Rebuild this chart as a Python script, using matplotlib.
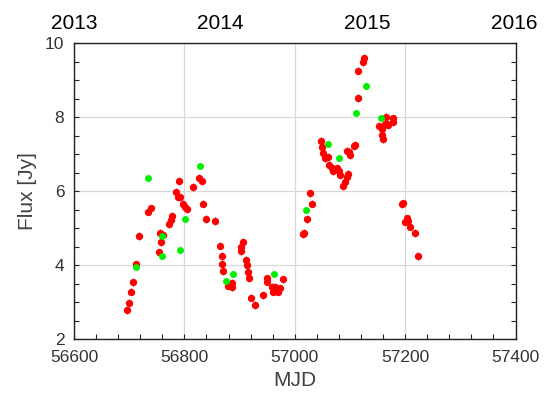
import matplotlib
matplotlib.use("Agg")
import matplotlib.pyplot as plt
from matplotlib.ticker import MultipleLocator

plt.rcParams['font.family'] = ['Liberation Sans', 'DejaVu Sans']

# Radio light curve: main monitoring (red) and secondary instrument (green)
mjd_red = [56695.5, 56700.2, 56703.3, 56706.3, 56712.3, 56717.8, 56734.6, 56739.5,
           56753.4, 56755.8, 56757.1, 56761.8, 56772.1, 56775.2, 56778.1, 56785.3,
           56787.9, 56789.7, 56792.0, 56796.9, 56801.6, 56805.3, 56815.0, 56825.9,
           56831.3, 56834.2, 56839.7, 56856.0, 56864.5, 56867.6, 56868.5, 56870.5,
           56879.5, 56885.7, 56886.8, 56902.0, 56903.1, 56905.6, 56911.1, 56912.9,
           56915.2, 56917.6, 56920.1, 56928.4, 56941.8, 56949.1, 56950.0, 56958.2,
           56964.1, 56961.1, 56970.1, 56973.2, 56978.1, 57015.4, 57017.2, 57022.6,
           57031.2, 57028.1, 57046.9, 57048.7, 57051.6, 57054.7, 57060.7, 57062.5,
           57066.8, 57069.7, 57075.9, 57080.6, 57081.9, 57087.9, 57091.0, 57094.0,
           57095.8, 57095.1, 57098.7, 57100.0, 57107.2, 57109.1, 57114.0, 57115.0,
           57123.0, 57125.4, 57153.1, 57157.4, 57157.9, 57159.2, 57163.4, 57165.2,
           57167.6, 57169.4, 57177.4, 57178.4, 57193.7, 57196.6, 57199.6, 57202.7,
           57205.6, 57208.7, 57217.8, 57222.6]
flux_red = [2.78, 2.97, 3.28, 3.53, 4.02, 4.78, 5.44, 5.53,
            4.34, 4.86, 4.61, 4.81, 5.11, 5.22, 5.33, 5.98,
            5.85, 6.27, 5.83, 5.65, 5.58, 5.51, 6.11, 6.36,
            6.27, 5.66, 5.24, 5.19, 4.52, 4.24, 4.03, 3.84,
            3.44, 3.41, 3.51, 4.48, 4.38, 4.62, 4.14, 4.00,
            3.82, 3.64, 3.12, 2.92, 3.18, 3.64, 3.55, 3.41,
            3.41, 3.28, 3.28, 3.37, 3.61, 4.84, 4.87, 5.24,
            5.66, 5.94, 7.35, 7.20, 7.02, 6.88, 6.93, 6.70,
            6.61, 6.54, 6.61, 6.54, 6.43, 6.14, 6.25, 6.39,
            6.46, 7.09, 7.06, 6.97, 7.22, 7.24, 8.51, 9.25,
            9.49, 9.59, 7.76, 7.67, 7.51, 7.40, 7.80, 8.01,
            7.81, 7.78, 7.96, 7.87, 5.64, 5.67, 5.17, 5.26,
            5.20, 5.04, 4.86, 4.24]
err_red = 0.1

mjd_green = [56712.3, 56734.6, 56758.9, 56758.9, 56792.0, 56801.1, 56828.3, 56875.4,
             56888.6, 56962.3, 57019.7, 57060.7, 57080.6, 57110.9, 57129.0, 57156.2]
flux_green = [3.94, 6.36, 4.24, 4.78, 4.41, 5.24, 6.68, 3.58,
              3.75, 3.75, 5.49, 7.26, 6.90, 8.10, 8.84, 7.98]

year_labels = ['2013', '2014', '2015', '2016']
year_pos = [56599, 56865, 57131, 57397]

fig = plt.figure(figsize=(5.45, 4.03), dpi=100)
ax = fig.add_axes([0.1358, 0.1588, 0.8102, 0.7345])

ax.errorbar(mjd_red, flux_red, yerr=err_red, fmt='none', ecolor='#2a4aa8',
            elinewidth=0.6, capsize=0, zorder=2)
ax.plot(mjd_red, flux_red, 'o', color='#ff0000', markersize=5.3,
        markeredgewidth=0, zorder=3)
ax.plot(mjd_green, flux_green, 'o', color='#00ee00', markersize=5.0,
        markeredgewidth=0, zorder=4)

ax.set_xlim(56600, 57400)
ax.set_ylim(2, 10)
ax.xaxis.set_major_locator(MultipleLocator(200))
ax.xaxis.set_minor_locator(MultipleLocator(40))
ax.yaxis.set_major_locator(MultipleLocator(2))
ax.yaxis.set_minor_locator(MultipleLocator(0.5))
ax.grid(True, which='major', color='#d8d8d8', linewidth=0.9)
ax.set_axisbelow(True)

ax.tick_params(which='both', direction='in', top=True, right=True,
               length=3.5, width=0.8, color='#222222')
ax.tick_params(which='major', labelsize=12.5, labelcolor='#333333', pad=7)
ax.tick_params(axis='x', which='major', pad=8)
for s in ax.spines.values():
    s.set_color('#222222')
    s.set_linewidth(1.0)

ax.set_xlabel('MJD', fontsize=15, color='#404040', labelpad=4)
ax.set_ylabel('Flux [Jy]', fontsize=15, color='#404040', labelpad=6)

# Calendar years along the top edge
ax_top = ax.twiny()
ax_top.set_xlim(ax.get_xlim())
ax_top.set_xticks(year_pos)
ax_top.set_xticklabels(year_labels)
ax_top.tick_params(axis='x', length=0, labelsize=15, labelcolor='black', pad=7)
for s in ax_top.spines.values():
    s.set_visible(False)

fig.savefig('out.png', dpi=100)
